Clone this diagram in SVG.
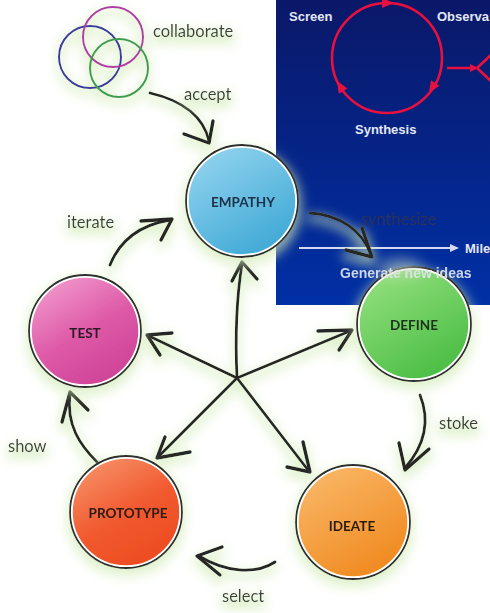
<svg xmlns="http://www.w3.org/2000/svg" width="490" height="613" viewBox="0 0 490 613">
  <defs>
    <style>
      .lbl { font-family: Lato, "Open Sans", "Liberation Sans", sans-serif; font-size: 16.5px; fill: #3c3c3c; }
      .node-txt { font-family: Lato, "Liberation Sans", sans-serif; font-weight: bold; font-size: 13.5px; text-anchor: middle; fill: #222; }
      .rim { fill: none; stroke: #ffffff; stroke-width: 2.5; }
      .edge { fill: none; stroke: #262626; stroke-width: 2.8; stroke-linecap: round; stroke-linejoin: round; }
      .head { fill: none; stroke: #262626; stroke-width: 3.4; stroke-linecap: round; stroke-linejoin: round; }
      .outline { fill: none; stroke: #2e2e2e; stroke-width: 1.8; }
      .slide { font-family: "Liberation Sans", Arial, sans-serif; font-weight: bold; font-size: 13px; fill: #e4e7f2; }
      .red { fill: none; stroke: #e8103e; stroke-width: 2.6; }
      .redhead { fill: #e8103e; }
    </style>
    <linearGradient id="panelGrad" x1="0" y1="0" x2="0" y2="1">
      <stop offset="0" stop-color="#0a1868"/>
      <stop offset="1" stop-color="#0030a6"/>
    </linearGradient>
    <linearGradient id="gBlue" x1="0.2" y1="0" x2="0.8" y2="1">
      <stop offset="0" stop-color="#93d4ef"/>
      <stop offset="1" stop-color="#3aa6d4"/>
    </linearGradient>
    <linearGradient id="gPink" x1="0.2" y1="0" x2="0.8" y2="1">
      <stop offset="0" stop-color="#f29ccd"/>
      <stop offset="0.5" stop-color="#de5aa8"/>
      <stop offset="1" stop-color="#cc3f94"/>
    </linearGradient>
    <linearGradient id="gGreen" x1="0.2" y1="0" x2="0.8" y2="1">
      <stop offset="0" stop-color="#94e07e"/>
      <stop offset="1" stop-color="#45bb40"/>
    </linearGradient>
    <linearGradient id="gRed" x1="0.2" y1="0" x2="0.8" y2="1">
      <stop offset="0" stop-color="#f7936a"/>
      <stop offset="0.5" stop-color="#f15a30"/>
      <stop offset="1" stop-color="#ec4a1e"/>
    </linearGradient>
    <linearGradient id="gOrange" x1="0.2" y1="0" x2="0.8" y2="1">
      <stop offset="0" stop-color="#fab868"/>
      <stop offset="1" stop-color="#ef861a"/>
    </linearGradient>
    <!-- soft pale-green halo used under nodes, strokes and labels -->
    <filter id="halo" x="-40%" y="-40%" width="180%" height="180%">
      <feMorphology in="SourceAlpha" operator="dilate" radius="2" result="fat"/>
      <feGaussianBlur in="fat" stdDeviation="6" result="blur"/>
      <feOffset in="blur" dy="5" result="off"/>
      <feFlood flood-color="#d2ebb6" flood-opacity="0.7"/>
      <feComposite operator="in" in2="off" result="glow"/>
      <feMerge>
        <feMergeNode in="glow"/>
        <feMergeNode in="SourceGraphic"/>
      </feMerge>
    </filter>
    <filter id="haze" x="-50%" y="-50%" width="200%" height="200%">
      <feGaussianBlur stdDeviation="7"/>
    </filter>
  </defs>

  <rect width="490" height="613" fill="#ffffff"/>

  <!-- slide panel in the upper right -->
  <g id="panel">
    <rect x="276" y="0" width="214" height="305" fill="url(#panelGrad)"/>
    <circle class="red" cx="387" cy="58" r="55"/>
    <polygon class="redhead" points="-6,-5 6,0 -6,5" transform="translate(388,3)"/>
    <polygon class="redhead" points="-6,-5 6,0 -6,5" transform="translate(432,88) rotate(123)"/>
    <polygon class="redhead" points="-6,-5 6,0 -6,5" transform="translate(340,86) rotate(239)"/>
    <path class="red" d="M447,68 L476,68 M477,68 L492,54 M477,68 L492,82"/>
    <polygon class="redhead" points="470,64 478,68 470,72"/>
    <text class="slide" x="289" y="21">Screen</text>
    <text class="slide" x="437" y="21">Observa</text>
    <text class="slide" x="355" y="134">Synthesis</text>
    <path d="M299,248 L452,248" stroke="#d4daf0" stroke-width="2"/>
    <polygon points="450,244 459,248 450,252" fill="#d4daf0"/>
    <text class="slide" x="465" y="253">Mile</text>
  </g>

  <!-- collaborate: three overlapping rings -->
  <g id="collaborate" filter="url(#halo)">
    <circle cx="90" cy="57" r="31" fill="none" stroke="#3b3aa0" stroke-width="2"/>
    <circle cx="113" cy="37" r="30" fill="none" stroke="#b23aa8" stroke-width="2"/>
    <circle cx="119" cy="68" r="29" fill="none" stroke="#3a9e52" stroke-width="2"/>
  </g>

  <!-- connectors -->
  <g id="connectors" filter="url(#halo)">
    <!-- spokes from the hub -->
    <path class="edge" d="M237,378 C235,335 237,295 242,264"/>
    <polyline class="head" points="232,281 242,262 257,279"/>
    <path class="edge" d="M237,378 L149,336"/>
    <polyline class="head" points="172,333 147,335 160,355"/>
    <path class="edge" d="M237,378 L350,331"/>
    <polyline class="head" points="318,331 352,330 339,350"/>
    <path class="edge" d="M237,378 L159,456"/>
    <polyline class="head" points="165,437 157,458 190,452"/>
    <path class="edge" d="M237,378 L308,470"/>
    <polyline class="head" points="303,442 310,472 287,467"/>

    <!-- cycle arrows -->
    <path class="edge" d="M150,93 C180,100 203,115 209,141"/>
    <polyline class="head" points="184,134 209,143 213,121"/>
    <path class="edge" d="M110,265 C120,240 140,225 170,220"/>
    <polyline class="head" points="141,221 172,219 161,240"/>
    <path class="edge" d="M310,213 C340,215 362,230 371,255"/>
    <polyline class="head" points="362,228 372,257 346,250"/>
    <path class="edge" d="M420,395 C430,420 425,445 405,468"/>
    <polyline class="head" points="399,443 405,470 429,449"/>
    <path class="edge" d="M275,562 C255,575 225,572 199,556"/>
    <polyline class="head" points="222,547 197,556 220,575"/>
    <path class="edge" d="M97,462 C80,445 66,425 70,394"/>
    <polyline class="head" points="62,422 70,392 88,410"/>
  </g>

  <!-- step nodes -->
  <g id="empathy" filter="url(#halo)">
    <circle cx="242" cy="201" r="56" fill="url(#gBlue)"/>
    <circle class="rim" cx="242" cy="201" r="54.5"/>
    <circle class="outline" cx="242" cy="201" r="56"/>
    <text class="node-txt" x="243" y="207" style="fill:#1d3048">EMPATHY</text>
  </g>
  <g id="define" filter="url(#halo)">
    <circle cx="414" cy="324" r="57" fill="url(#gGreen)"/>
    <circle class="rim" cx="414" cy="324" r="55.5"/>
    <circle class="outline" cx="414" cy="324" r="57"/>
    <text class="node-txt" x="414" y="330" style="fill:#1c321c">DEFINE</text>
  </g>
  <g id="test" filter="url(#halo)">
    <circle cx="85" cy="331" r="56" fill="url(#gPink)"/>
    <circle class="rim" cx="85" cy="331" r="54.5"/>
    <circle class="outline" cx="85" cy="331" r="56"/>
    <text class="node-txt" x="85" y="338" style="fill:#2b1a28">TEST</text>
  </g>
  <g id="prototype" filter="url(#halo)">
    <circle cx="126" cy="512" r="56" fill="url(#gRed)"/>
    <circle class="rim" cx="126" cy="512" r="54.5"/>
    <circle class="outline" cx="126" cy="512" r="56"/>
    <text class="node-txt" x="128" y="518" style="fill:#2a1a14">PROTOTYPE</text>
  </g>
  <g id="ideate" filter="url(#halo)">
    <circle cx="353" cy="522" r="57" fill="url(#gOrange)"/>
    <circle class="rim" cx="353" cy="522" r="55.5"/>
    <circle class="outline" cx="353" cy="522" r="57"/>
    <text class="node-txt" x="352" y="531" style="fill:#2a1e10">IDEATE</text>
  </g>

  <!-- arrow labels -->
  <g id="labels" filter="url(#halo)">
    <text class="lbl" x="153" y="37">collaborate</text>
    <text class="lbl" x="184" y="100">accept</text>
    <text class="lbl" x="67" y="228">iterate</text>
    <text class="lbl" x="439" y="429">stoke</text>
    <text class="lbl" x="8" y="452">show</text>
    <text class="lbl" x="222" y="602">select</text>
  </g>
  <text class="lbl" x="361" y="225" style="fill:#33334e" opacity="0.85">synthesize</text>

  <!-- slide caption that shows through the overlapping node -->
  <g id="caption">
    <text class="slide" x="340" y="278" style="font-size:14px" opacity="0.9">Generate new ideas</text>
    <ellipse cx="400" cy="268" rx="22" ry="9" fill="#cfe0c4" opacity="0.55" filter="url(#haze)"/>
  </g>
</svg>
